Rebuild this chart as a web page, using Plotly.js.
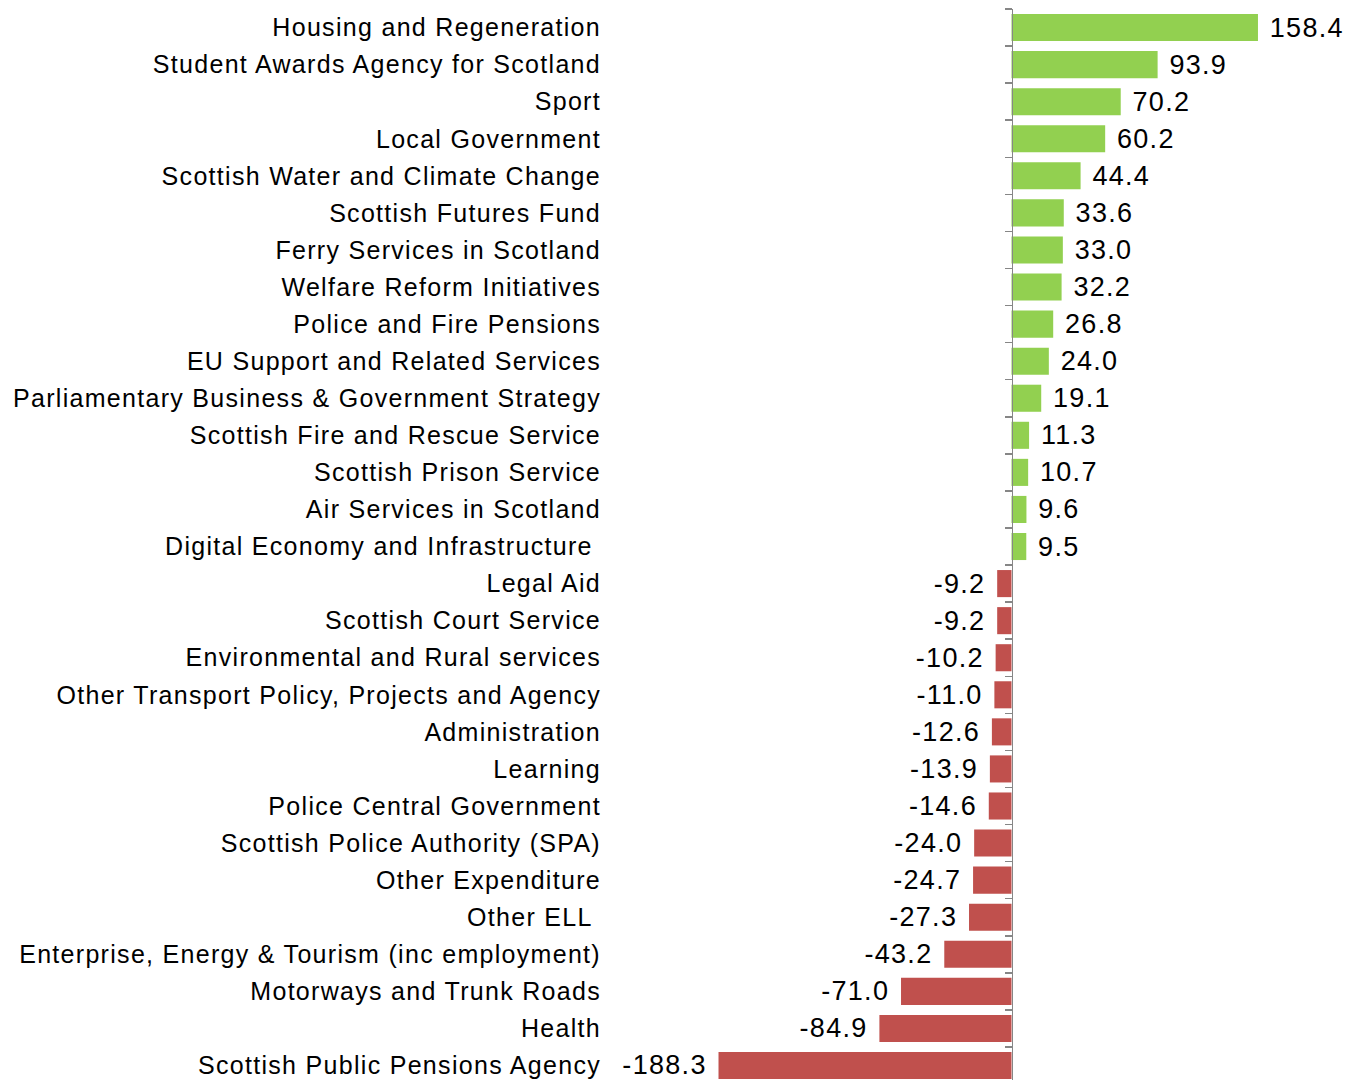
<!DOCTYPE html>
<html>
<head>
<meta charset="utf-8">
<script src="https://cdn.plot.ly/plotly-3.0.1.min.js"></script>
<style>
html,body{margin:0;padding:0;background:#fff;}
#chart{width:1362px;height:1080px;}
.ytick text{letter-spacing:1.3px;}
text.bartext{letter-spacing:1.3px;}
</style>
</head>
<body>
<div id="chart"></div>
<script>
const categories = [
  "Housing and Regeneration",
  "Student Awards Agency for Scotland",
  "Sport",
  "Local Government",
  "Scottish Water and Climate Change",
  "Scottish Futures Fund",
  "Ferry Services in Scotland",
  "Welfare Reform Initiatives",
  "Police and Fire Pensions",
  "EU Support and Related Services",
  "Parliamentary Business & Government Strategy",
  "Scottish Fire and Rescue Service",
  "Scottish Prison Service",
  "Air Services in Scotland",
  "Digital Economy and Infrastructure\u00a0",
  "Legal Aid",
  "Scottish Court Service",
  "Environmental and Rural services",
  "Other Transport Policy, Projects and Agency",
  "Administration",
  "Learning",
  "Police Central Government",
  "Scottish Police Authority (SPA)",
  "Other Expenditure",
  "Other ELL\u00a0",
  "Enterprise, Energy & Tourism (inc employment)",
  "Motorways and Trunk Roads",
  "Health",
  "Scottish Public Pensions Agency"
];
const values = [158.4, 93.9, 70.2, 60.2, 44.4, 33.6, 33.0, 32.2, 26.8, 24.0, 19.1, 11.3, 10.7, 9.6, 9.5,
  -9.2, -9.2, -10.2, -11.0, -12.6, -13.9, -14.6, -24.0, -24.7, -27.3, -43.2, -71.0, -84.9, -188.3];
const posColor = "#92D050";
const negColor = "#C0504D";

const labels = values.map(v => v >= 0 ? "\u00a0" + v.toFixed(1) : v.toFixed(1) + "\u00a0");
const colors = values.map(v => v >= 0 ? posColor : negColor);

const W = 1362, H = 1080;
const L = 610, T = 9;
const zeroPx = 1011.5, pxPerUnit = 1.556, band = 37.07;
const xr = [(L - zeroPx) / pxPerUnit, (W - zeroPx) / pxPerUnit];
const yBottom = -0.5 + (H - T) / band;

const catFont = {family: "Liberation Sans, Arial, sans-serif", size: 25, color: "#000"};
const valFont = {family: "Liberation Sans, Arial, sans-serif", size: 27, color: "#000"};

const traces = [
  {
    type: "bar", orientation: "h", x: values, y: categories,
    marker: {color: colors}, text: labels, textposition: "outside",
    textfont: valFont, constraintext: "none", cliponaxis: false,
    hoverinfo: "skip", width: 0.73
  },
  {
    type: "bar", orientation: "h", x: values.map(() => 0), y: categories,
    yaxis: "y2", marker: {color: "rgba(0,0,0,0)"}, hoverinfo: "skip", showlegend: false
  }
];

const layout = {
  width: W, height: H,
  margin: {l: L, r: 0, t: T, b: 0, autoexpand: false},
  paper_bgcolor: "#fff", plot_bgcolor: "rgba(0,0,0,0)",
  showlegend: false,
  font: catFont,
  xaxis: {range: xr, visible: false, showgrid: false, zeroline: false, fixedrange: true},
  yaxis: {
    type: "category", categoryorder: "array", categoryarray: categories,
    range: [yBottom, -0.5], showgrid: false, zeroline: false, showline: false,
    ticks: "", tickfont: catFont, automargin: false, ticklabelstandoff: 8
  },
  yaxis2: {
    type: "category", categoryorder: "array", categoryarray: categories,
    overlaying: "y", matches: "y", anchor: "free", side: "left",
    position: (zeroPx - L) / (W - L),
    showline: true, linecolor: "#868686", linewidth: 1.5,
    ticks: "outside", ticklen: 7, tickcolor: "#868686", tickwidth: 1.5,
    tickson: "boundaries", showticklabels: false, showgrid: false, zeroline: false
  }
};

Plotly.newPlot("chart", traces, layout, {displayModeBar: false, staticPlot: true});
</script>
</body>
</html>
